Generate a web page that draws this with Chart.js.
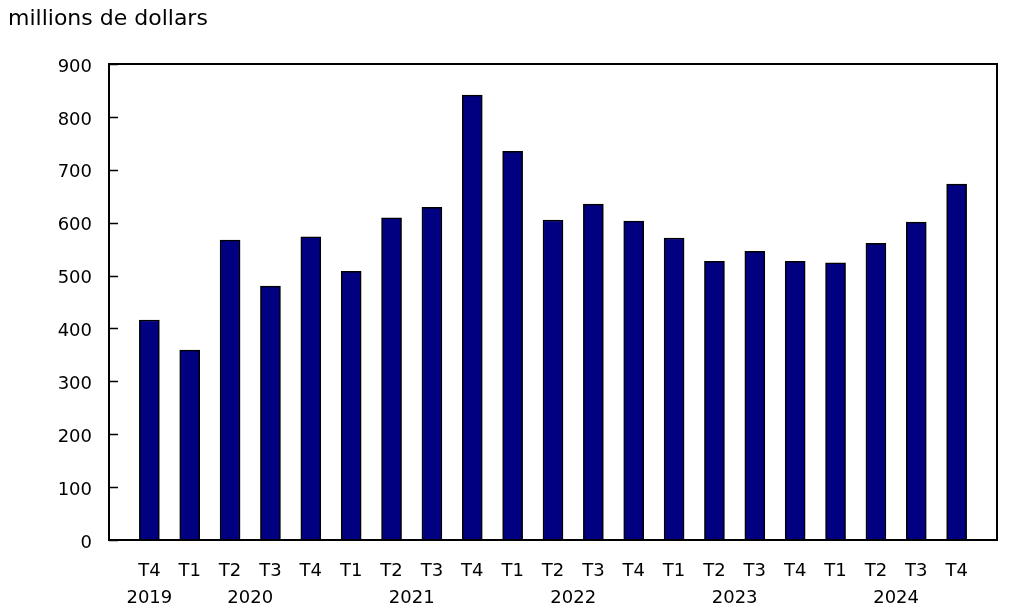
<!DOCTYPE html>
<html>
<head>
<meta charset="utf-8">
<script src="https://cdn.jsdelivr.net/npm/chart.js@4.4.1/dist/chart.umd.min.js"></script>
<style>
  body { margin: 0; background: #fff; }
  #wrap { width: 1033px; height: 615px; }
</style>
</head>
<body>
<div id="wrap"><canvas id="graphique" width="1033" height="615"></canvas></div>
<script>
	// trimestres et valeurs (millions de dollars)
	var trimestres = ['T4', 'T1', 'T2', 'T3', 'T4', 'T1', 'T2', 'T3', 'T4', 'T1', 'T2', 'T3', 'T4', 'T1', 'T2', 'T3', 'T4', 'T1', 'T2', 'T3', 'T4'];
	var valeurs = [416, 359, 567, 480, 573, 508, 609, 629, 841, 735, 605, 635, 603, 571, 527, 546, 527, 524, 561, 601, 673];
	// année et position (indice du trimestre au centre du groupe)
	var annees = ['2019', '2020', '2021', '2022', '2023', '2024'];
	var centreAnnees = [0, 2.5, 6.5, 10.5, 14.5, 18.5];
	var yTicks = [0, 100, 200, 300, 400, 500, 600, 700, 800, 900];

	var police = '"DejaVu Sans", Verdana, sans-serif';

	var points = valeurs.map(function (v, i) { return { x: i, y: v }; });

	var cadrePlugin = {
		id: 'cadre',
		afterDraw: function (chart) {
			var ctx = chart.ctx;
			var a = chart.chartArea;
			var y = chart.scales.y;
			var x = chart.scales.x;
			ctx.save();
			ctx.strokeStyle = '#000';
			ctx.lineWidth = 2;
			ctx.strokeRect(a.left, a.top, a.right - a.left, a.bottom - a.top);
			// petites graduations vers l'intérieur
			ctx.lineWidth = 1.5;
			yTicks.forEach(function (t) {
				var py = Math.round(y.getPixelForValue(t)) + 0.5;
				ctx.beginPath();
				ctx.moveTo(a.left, py);
				ctx.lineTo(a.left + 9, py);
				ctx.stroke();
			});
			// titre de l'axe
			ctx.fillStyle = '#000';
			ctx.font = '22px ' + police;
			ctx.textAlign = 'left';
			ctx.textBaseline = 'middle';
			ctx.fillText('millions de dollars', 8, 19);
			// années
			ctx.font = '18px ' + police;
			ctx.textAlign = 'center';
			annees.forEach(function (an, i) {
				ctx.fillText(an, x.getPixelForValue(centreAnnees[i]), 598);
			});
			ctx.restore();
		}
	};

	var ctx = document.getElementById('graphique');
	var graphique = new Chart(ctx, {
		type: 'bar',
		data: {
			datasets: [
			{
				data: points,
				backgroundColor: '#000080',
				borderColor: '#000000',
				borderWidth: 1.5,
				barThickness: 20
			}
			]
		},
		options: {
			responsive: false,
			animation: false,
			layout: { padding: { top: 64, right: 36, left: 0, bottom: 0 } },
			plugins: {
				legend: { display: false },
				tooltip: { enabled: false }
			},
			scales: {
				x: {
					type: 'linear',
					offset: false,
					min: -1,
					max: 21,
					grid: { display: false, drawTicks: false },
					border: { display: false },
					afterFit: function (s) { s.height = 75; },
					ticks: {
						stepSize: 1,
						autoSkip: false,
						maxRotation: 0,
						padding: 21,
						color: '#000',
						font: { family: police, size: 18 },
						callback: function (v) {
							return (v >= 0 && v < trimestres.length) ? trimestres[v] : '';
						}
					}
				},
				y: {
					min: 0,
					max: 900,
					grid: { display: false, drawTicks: false },
					border: { display: false },
					afterFit: function (s) { s.width = 109; },
					ticks: {
						stepSize: 100,
						padding: 17,
						labelOffset: 3,
						color: '#000',
						font: { family: police, size: 18 }
					}
				}
			}
		},
		plugins: [cadrePlugin]
	});
</script>
</body>
</html>
